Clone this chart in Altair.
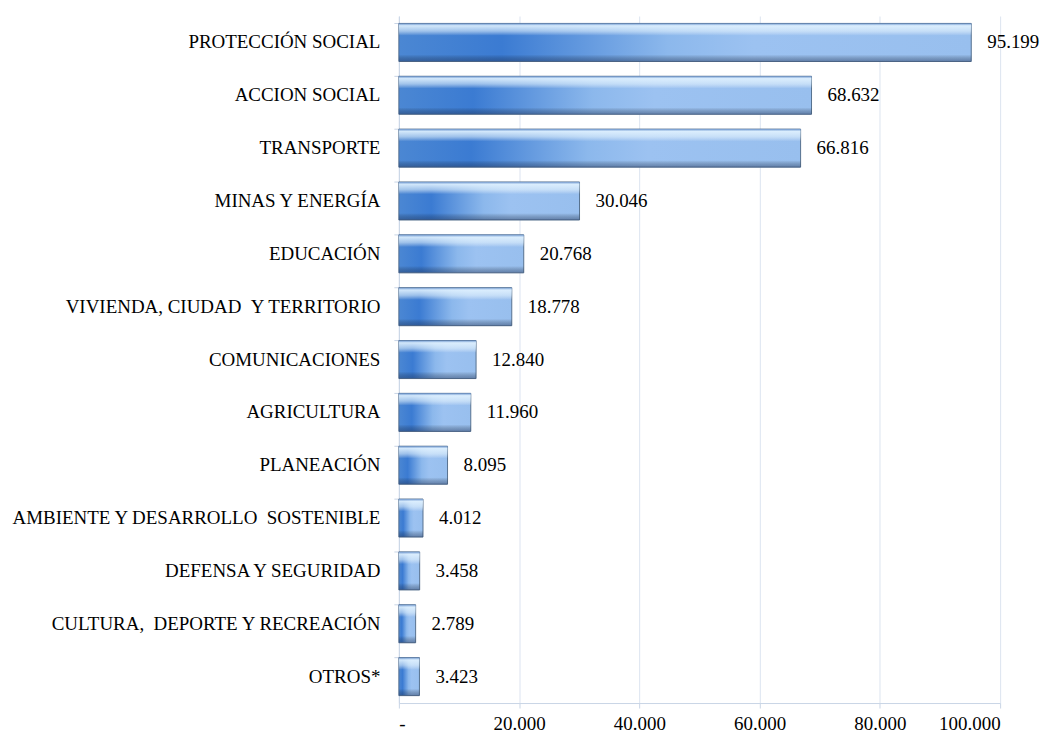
import altair as alt
import pandas as pd

NB = "\u00a0"
categories = [
    "PROTECCIÓN SOCIAL", "ACCION SOCIAL", "TRANSPORTE", "MINAS Y ENERGÍA",
    "EDUCACIÓN", "VIVIENDA, CIUDAD" + NB + NB + "Y TERRITORIO", "COMUNICACIONES",
    "AGRICULTURA", "PLANEACIÓN", "AMBIENTE Y DESARROLLO" + NB + NB + "SOSTENIBLE",
    "DEFENSA Y SEGURIDAD", "CULTURA," + NB + NB + "DEPORTE Y RECREACIÓN", "OTROS*",
]
values = [95199, 68632, 66816, 30046, 20768, 18778, 12840, 11960, 8095,
          4012, 3458, 2789, 3423]
x_ticks = [0, 20000, 40000, 60000, 80000, 100000]

df = pd.DataFrame({"cat": categories, "val": values})

FONT = "Liberation Serif"

base = alt.Chart(df).encode(
    y=alt.Y("cat:N", sort=categories, title=None,
            scale=alt.Scale(paddingInner=0.28, paddingOuter=0.14),
            axis=alt.Axis(labelFont=FONT, labelFontSize=19, labelColor="#000000",
                          labelPadding=14, tickSize=5, tickColor="#c9d5e6",
                          domainColor="#c9d5e6", labelLimit=400,
                          minExtent=385, maxExtent=385, bandPosition=0)),
)

h_grad = {
    "gradient": "linear", "x1": 0, "y1": 0, "x2": 1, "y2": 0,
    "stops": [
        {"offset": 0.0, "color": "#4b87d3"},
        {"offset": 0.18, "color": "#3b7bd2"},
        {"offset": 0.47, "color": "#8cb8ec"},
        {"offset": 0.62, "color": "#9cc2f1"},
        {"offset": 1.0, "color": "#98bfee"},
    ],
}
v_grad = {
    "gradient": "linear", "x1": 0, "y1": 0, "x2": 0, "y2": 1,
    "stops": [
        {"offset": 0.0, "color": "rgba(110,150,205,0.9)"},
        {"offset": 0.06, "color": "rgba(225,242,255,0.9)"},
        {"offset": 0.2, "color": "rgba(235,248,255,0.55)"},
        {"offset": 0.32, "color": "rgba(255,255,255,0)"},
        {"offset": 0.82, "color": "rgba(0,0,0,0)"},
        {"offset": 1.0, "color": "rgba(30,50,90,0.45)"},
    ],
}

xenc = alt.X("val:Q", title=None,
             scale=alt.Scale(domain=[0, 100000], nice=False),
             axis=alt.Axis(values=x_ticks, labelFont=FONT, labelFontSize=19,
                           labelColor="#000000", grid=True, gridColor="#dce4f0",
                           domainColor="#c9d5e6", tickColor="#c9d5e6", tickSize=5,
                           labelPadding=7,
                           labelExpr="datum.value == 0 ? '-' : replace(format(datum.value, ','), ',', '.')"))

bars = base.mark_bar(fill=h_grad, stroke="#56708f", strokeWidth=1).encode(x=xenc)
shine = base.mark_bar(fill=v_grad).encode(x=xenc)
labels = base.transform_calculate(
    lab="replace(format(datum.val, ','), ',', '.')"
).mark_text(align="left", baseline="middle", dx=16, font=FONT, fontSize=19,
            color="#000000").encode(x=xenc, text="lab:N")

chart = alt.layer(bars, shine, labels).properties(
    width=603, height=689,
    autosize=alt.AutoSizeParams(type="none"),
    padding={"left": 392, "top": 7, "right": 43, "bottom": 31},
).configure_view(stroke=None)

chart.save("out.html", embed_options={"renderer": "svg", "actions": False})
